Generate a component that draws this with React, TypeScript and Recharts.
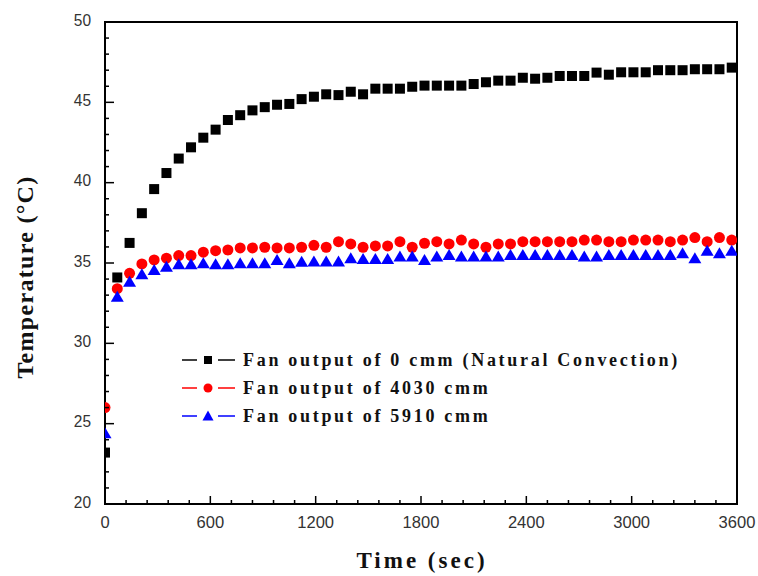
import React from 'react';
import { ScatterChart, Scatter, XAxis, YAxis, ReferenceArea, Legend } from 'recharts';

const times = [
  0, 70, 140, 210, 280, 350, 420, 490, 560, 630, 700, 770, 840, 910, 980, 1050, 1120,
  1190, 1260, 1330, 1400, 1470, 1540, 1610, 1680, 1750, 1820, 1890, 1960, 2030, 2100,
  2170, 2240, 2310, 2380, 2450, 2520, 2590, 2660, 2730, 2800, 2870, 2940, 3010, 3080,
  3150, 3220, 3290, 3360, 3430, 3500, 3570,
];

const natural = [
  23.2, 34.1, 36.25, 38.1, 39.6, 40.6, 41.5, 42.2, 42.8, 43.3, 43.9, 44.2, 44.5, 44.7, 44.85, 44.9, 45.2,
  45.35, 45.5, 45.45, 45.66, 45.5, 45.85, 45.85, 45.85, 45.97, 46.04, 46.04, 46.04, 46.04, 46.14,
  46.25, 46.35, 46.35, 46.53, 46.47, 46.53, 46.64, 46.64, 46.64, 46.85, 46.72, 46.87, 46.87, 46.87,
  47.0, 47.0, 47.0, 47.06, 47.06, 47.06, 47.16,
];

const fan4030 = [
  26.0, 33.4, 34.36, 34.94, 35.19, 35.3, 35.46, 35.46, 35.67, 35.77, 35.81, 35.94, 35.94, 35.98, 35.94, 35.94, 35.98,
  36.1, 35.98, 36.33, 36.19, 35.98, 36.06, 36.06, 36.33, 35.98, 36.23, 36.33, 36.19, 36.43, 36.19,
  35.98, 36.19, 36.19, 36.33, 36.33, 36.33, 36.33, 36.33, 36.43, 36.43, 36.33, 36.33, 36.43, 36.43,
  36.43, 36.33, 36.43, 36.58, 36.33, 36.58, 36.43,
];

const fan5910 = [
  24.4, 32.9, 33.84, 34.3, 34.57, 34.77, 34.92, 34.92, 34.98, 34.92, 34.92, 34.98, 34.98, 34.98, 35.19, 34.98, 35.08,
  35.1, 35.1, 35.09, 35.29, 35.25, 35.25, 35.25, 35.4, 35.4, 35.19, 35.4, 35.5, 35.4, 35.4,
  35.4, 35.4, 35.5, 35.5, 35.5, 35.5, 35.5, 35.5, 35.4, 35.4, 35.5, 35.5, 35.5, 35.5,
  35.5, 35.5, 35.6, 35.29, 35.77, 35.6, 35.77,
];

const xTicks = [
  0, 120, 240, 360, 480, 600, 720, 840, 960, 1080, 1200, 1320, 1440, 1560, 1680, 1800,
  1920, 2040, 2160, 2280, 2400, 2520, 2640, 2760, 2880, 3000, 3120, 3240, 3360, 3480, 3600,
];
const xLabels = [0, 600, 1200, 1800, 2400, 3000, 3600];
const yTicks = [
  20, 21, 22, 23, 24, 25, 26, 27, 28, 29, 30, 31, 32, 33, 34, 35, 36, 37, 38, 39, 40,
  41, 42, 43, 44, 45, 46, 47, 48, 49, 50,
];
const yLabels = [20, 25, 30, 35, 40, 45, 50];

const seriesNames = [
  'Fan output of 0 cmm (Natural Convection)',
  'Fan output of 4030 cmm',
  'Fan output of 5910 cmm',
];
const seriesColors = ['#000000', '#ff0000', '#0000ff'];

const toPoints = (vals: number[]) => times.map((t, i) => ({ t, v: vals[i] }));

const SquareDot = (p: any) => (
  <rect x={p.cx - 5} y={p.cy - 5} width={10} height={10} fill="#000000" />
);
const CircleDot = (p: any) => <circle cx={p.cx} cy={p.cy} r={5.5} fill="#ff0000" />;
const TriDot = (p: any) => (
  <polygon
    points={`${p.cx},${p.cy - 6} ${p.cx + 6.5},${p.cy + 5} ${p.cx - 6.5},${p.cy + 5}`}
    fill="#0000ff"
  />
);

const tickFont = "'Liberation Sans', Arial, sans-serif";
const serifFont = "'Liberation Serif', 'Times New Roman', serif";

const XTick = (props: any) => {
  const { x, y, payload } = props;
  const major = xLabels.includes(payload.value);
  const s = String(payload.value);
  return (
    <g>
      <line x1={x} x2={x} y1={y} y2={y - (major ? 8 : 4)} stroke="#000" strokeWidth={1.5} />
      {major && (
        <text x={x} y={y + 18} textAnchor="middle" dominantBaseline="central"
          fontFamily={tickFont} fontSize={17} fill="#333"
          textLength={s.length * 9.2} lengthAdjust="spacingAndGlyphs">
          {s}
        </text>
      )}
    </g>
  );
};

const YTick = (props: any) => {
  const { x, y, payload } = props;
  const major = yLabels.includes(payload.value);
  const s = String(payload.value);
  return (
    <g>
      <line x1={x} x2={x + (major ? 9 : 4)} y1={y} y2={y} stroke="#000" strokeWidth={1.5} />
      {major && (
        <text x={x - 14} y={y - 2} textAnchor="end" dominantBaseline="central"
          fontFamily={tickFont} fontSize={17} fill="#333"
          textLength={s.length * 8.6} lengthAdjust="spacingAndGlyphs">
          {s}
        </text>
      )}
    </g>
  );
};

const LegendIcon = ({ idx }: { idx: number }) => {
  const c = seriesColors[idx];
  return (
    <svg width={54} height={14} style={{ display: 'block' }}>
      <line x1={0} x2={15} y1={7} y2={7} stroke={c} strokeWidth={1.5} />
      <line x1={36} x2={53} y1={7} y2={7} stroke={c} strokeWidth={1.5} />
      {idx === 0 && <rect x={22} y={3} width={8} height={8} fill={c} />}
      {idx === 1 && <circle cx={26} cy={7} r={4.5} fill={c} />}
      {idx === 2 && <polygon points="26,1.5 31.5,11.5 20.5,11.5" fill={c} />}
    </svg>
  );
};

const renderLegend = () => (
  <div style={{ display: 'flex', flexDirection: 'column' }}>
    {seriesNames.map((name, i) => (
      <div key={name} style={{ display: 'flex', alignItems: 'center', height: 28 }}>
        <LegendIcon idx={i} />
        <span style={{
          marginLeft: 7, fontFamily: serifFont, fontWeight: 'bold', fontSize: 18,
          letterSpacing: 2.7, color: '#111', whiteSpace: 'nowrap',
        }}>{name}</span>
      </div>
    ))}
  </div>
);

const YTitle = (props: any) => {
  const vb = props.viewBox;
  const x = vb.x + 25;
  const y = vb.y + vb.height / 2 + 14;
  return (
    <text x={x} y={y} transform={`rotate(-90 ${x} ${y})`} textAnchor="middle"
      dominantBaseline="central" fontFamily={serifFont} fontWeight="bold" fontSize={24}
      letterSpacing={1.3} fill="#111">
      Temperature (°C)
    </text>
  );
};

const XTitle = (props: any) => {
  const vb = props.viewBox;
  const x = vb.x + vb.width / 2 + 1;
  const y = vb.y + 56;
  return (
    <text x={x} y={y} textAnchor="middle" dominantBaseline="central"
      fontFamily={serifFont} fontWeight="bold" fontSize={23} letterSpacing={3} fill="#111">
      Time (sec)
    </text>
  );
};

export default function App() {
  return (
    <div style={{ width: 758, height: 576 }}>
      <style>{'html,body{margin:0;padding:0;overflow:hidden;}'}</style>
      <ScatterChart width={758} height={576} margin={{ top: 22, right: 21, left: 0, bottom: 0 }}>
        <XAxis
          type="number" dataKey="t" domain={[0, 3600]} ticks={xTicks} interval={0}
          height={72} tickSize={0} tickMargin={0} tickLine={false}
          axisLine={{ stroke: '#000', strokeWidth: 2 }} tick={<XTick />}
          label={{ content: <XTitle /> } as any} allowDataOverflow
        />
        <YAxis
          type="number" dataKey="v" domain={[20, 50]} ticks={yTicks} interval={0}
          width={105} tickSize={0} tickMargin={0} tickLine={false}
          axisLine={{ stroke: '#000', strokeWidth: 2 }} tick={<YTick />}
          label={{ content: <YTitle /> } as any} allowDataOverflow
        />
        <ReferenceArea x1={0} x2={3600} y1={20} y2={50} fill="none" fillOpacity={0}
          stroke="#000" strokeWidth={2} ifOverflow="extendDomain" />
        <Scatter name={seriesNames[0]} data={toPoints(natural)} fill="#000000"
          shape={SquareDot} isAnimationActive={false} />
        <Scatter name={seriesNames[1]} data={toPoints(fan4030)} fill="#ff0000"
          shape={CircleDot} isAnimationActive={false} />
        <Scatter name={seriesNames[2]} data={toPoints(fan5910)} fill="#0000ff"
          shape={TriDot} isAnimationActive={false} />
        <Legend layout="vertical" align="center" verticalAlign="middle"
          content={renderLegend}
          wrapperStyle={{ left: 182, top: 346, width: 'auto', height: 'auto' }} />
      </ScatterChart>
    </div>
  );
}
